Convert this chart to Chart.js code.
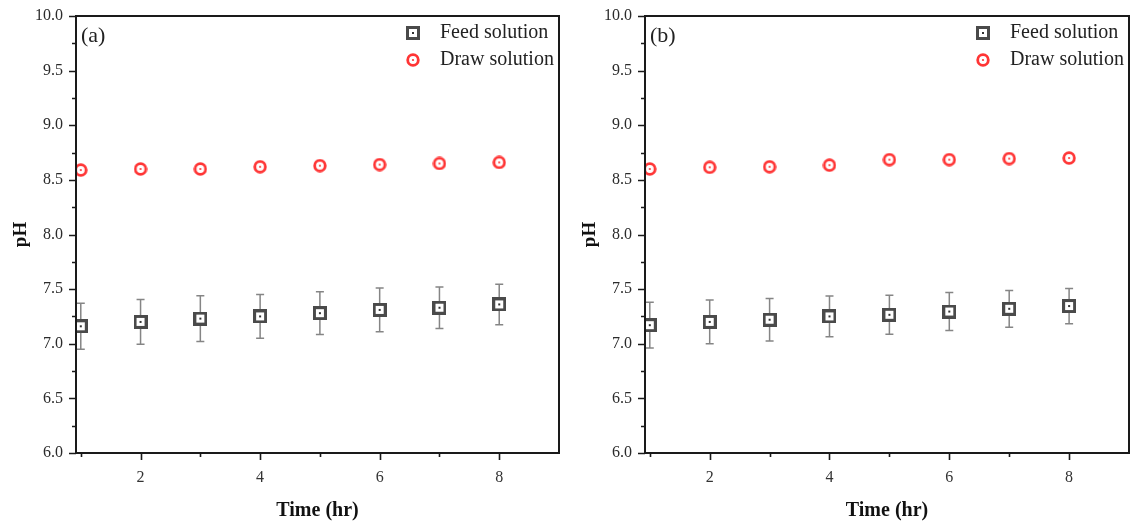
<!DOCTYPE html>
<html>
<head>
<meta charset="utf-8">
<script src="https://cdn.jsdelivr.net/npm/chart.js@4"></script>
<style>
  body { margin: 0; background: #fff; }
  #wrap { position: relative; width: 1138px; height: 524px; }
  .panel { position: absolute; top: 0; width: 569px; height: 524px; }
</style>
</head>
<body>
<div id="wrap">
  <div class="panel" style="left:0"><canvas id="chartA"></canvas></div>
  <div class="panel" style="left:569px"><canvas id="chartB"></canvas></div>
</div>
<script>
const times = [1, 2, 3, 4, 5, 6, 7, 8];

// panel (a)
const feedA = [7.16, 7.20, 7.23, 7.25, 7.28, 7.31, 7.33, 7.36];
const feedAErr = [0.21, 0.205, 0.21, 0.20, 0.195, 0.20, 0.19, 0.185];
const drawA = [8.59, 8.60, 8.60, 8.62, 8.63, 8.64, 8.65, 8.66];
const drawAErr = [0.02, 0.02, 0.02, 0.02, 0.02, 0.02, 0.02, 0.02];

// panel (b)
const feedB = [7.17, 7.20, 7.22, 7.25, 7.265, 7.295, 7.32, 7.345];
const feedBErr = [0.21, 0.20, 0.195, 0.187, 0.178, 0.174, 0.168, 0.161];
const drawB = [8.60, 8.615, 8.62, 8.635, 8.685, 8.685, 8.695, 8.70];
const drawBErr = [0.02, 0.02, 0.02, 0.02, 0.03, 0.03, 0.02, 0.03];

const yTicks = [6.0, 6.5, 7.0, 7.5, 8.0, 8.5, 9.0, 9.5, 10.0];
const seriesNames = ["Feed solution", "Draw solution"];

const SERIF = "'Liberation Serif', 'Times New Roman', serif";

function squareMarker() {
    const c = document.createElement("canvas");
    c.width = c.height = 14;
    const g = c.getContext("2d");
    g.fillStyle = "#fff";
    g.fillRect(1, 1, 12, 12);
    g.strokeStyle = "#4a4a4a";
    g.lineWidth = 3;
    g.strokeRect(1.5, 1.5, 11, 11);
    g.fillStyle = "#333";
    g.fillRect(6, 6, 2, 2);
    return c;
}

function circleMarker() {
    const c = document.createElement("canvas");
    c.width = c.height = 14;
    const g = c.getContext("2d");
    g.beginPath();
    g.arc(7, 7, 5.3, 0, Math.PI * 2);
    g.fillStyle = "#fff";
    g.fill();
    g.strokeStyle = "#ff3535";
    g.lineWidth = 2.8;
    g.stroke();
    g.beginPath();
    g.arc(7, 7, 1.1, 0, Math.PI * 2);
    g.fillStyle = "#ff3535";
    g.fill();
    return c;
}

const sqImg = squareMarker();
const ciImg = circleMarker();

// frame, ticks, error bars, legend, panel label
const decorPlugin = {
    id: "decor",
    beforeDatasetsDraw(chart) {
        const ctx = chart.ctx;
        const xs = chart.scales.x, ys = chart.scales.y;
        ctx.save();
        chart.data.datasets.forEach(ds => {
            ctx.strokeStyle = ds.errColor;
            ctx.lineWidth = 1.5;
            ds.data.forEach((p, i) => {
                const e = ds.errors[i];
                const px = xs.getPixelForValue(p.x);
                const top = ys.getPixelForValue(p.y + e);
                const bot = ys.getPixelForValue(p.y - e);
                ctx.beginPath();
                ctx.moveTo(px, top); ctx.lineTo(px, bot);
                ctx.moveTo(px - 4, top); ctx.lineTo(px + 4, top);
                ctx.moveTo(px - 4, bot); ctx.lineTo(px + 4, bot);
                ctx.stroke();
            });
        });
        ctx.restore();
    },
    afterDraw(chart) {
        const ctx = chart.ctx;
        const a = chart.chartArea;
        const xs = chart.scales.x, ys = chart.scales.y;
        ctx.save();
        ctx.strokeStyle = "#1a1a1a";
        ctx.lineWidth = 2;
        ctx.strokeRect(a.left, a.top, a.right - a.left, a.bottom - a.top);

        ctx.lineWidth = 1.6;
        ctx.beginPath();
        // y ticks: majors every 0.5, minors between
        for (let v = 6; v <= 10.001; v += 0.25) {
            const py = Math.round(ys.getPixelForValue(v)) + 0.5;
            const major = Math.abs(v * 2 - Math.round(v * 2)) < 1e-6;
            ctx.moveTo(a.left, py);
            ctx.lineTo(a.left - (major ? 7 : 4), py);
        }
        // x ticks: majors on even hours, minors on odd
        times.forEach(t => {
            const px = Math.round(xs.getPixelForValue(t)) + 0.5;
            ctx.moveTo(px, a.bottom);
            ctx.lineTo(px, a.bottom + (t % 2 === 0 ? 7 : 4));
        });
        ctx.stroke();

        // legend inside plot, top right
        ctx.font = "20px " + SERIF;
        ctx.fillStyle = "#222";
        ctx.textBaseline = "middle";
        ctx.textAlign = "left";
        const imgs = [sqImg, ciImg];
        chart.data.datasets.forEach((ds, i) => {
            const ly = 33 + i * 27;
            const img = imgs[i];
            ctx.drawImage(img, a.right - 146 - img.width / 2, ly - img.height / 2);
            ctx.fillText(ds.label, a.right - 119, ly);
        });

        // panel label
        ctx.font = "22px " + SERIF;
        ctx.fillText(chart.options.panelLabel, a.left + 5, 36);
        ctx.restore();
    }
};

function makeChart(id, feed, feedErr, draw, drawErr, label, rightPad) {
    return new Chart(document.getElementById(id), {
        type: "scatter",
        data: {
            datasets: [
                {
                    label: seriesNames[0],
                    data: times.map((t, i) => ({ x: t, y: feed[i] })),
                    errors: feedErr,
                    errColor: "#858585",
                    pointStyle: sqImg,
                    showLine: false
                },
                {
                    label: seriesNames[1],
                    data: times.map((t, i) => ({ x: t, y: draw[i] })),
                    errors: drawErr,
                    errColor: "#ff8080",
                    pointStyle: ciImg,
                    showLine: false
                }
            ]
        },
        options: {
            panelLabel: label,
            responsive: true,
            maintainAspectRatio: false,
            animation: false,
            layout: { padding: { top: 16, right: rightPad, left: 0, bottom: 0 } },
            plugins: { legend: { display: false }, tooltip: { enabled: false } },
            scales: {
                x: {
                    type: "linear",
                    min: 0.92,
                    max: 9,
                    afterBuildTicks: s => { s.ticks = times.map(v => ({ value: v })); },
                    afterFit: s => { s.height = 71; s.paddingLeft = 0; s.paddingRight = 0; },
                    grid: { display: false, drawTicks: false },
                    border: { display: false },
                    ticks: {
                        autoSkip: false,
                        maxRotation: 0,
                        padding: 15,
                        color: "#333",
                        font: { family: SERIF, size: 16 },
                        callback: v => (v % 2 === 0 ? String(v) : "")
                    },
                    title: {
                        display: true,
                        text: "Time (hr)",
                        color: "#111",
                        font: { family: SERIF, size: 20, weight: "bold" },
                        padding: { top: 0, bottom: 1 }
                    }
                },
                y: {
                    min: 6,
                    max: 10,
                    afterBuildTicks: s => { s.ticks = yTicks.map(v => ({ value: v })); },
                    afterFit: s => { s.width = 76; s.paddingTop = 0; s.paddingBottom = 0; },
                    grid: { display: false, drawTicks: false },
                    border: { display: false },
                    ticks: {
                        padding: 13,
                        color: "#2b2b2b",
                        font: { family: SERIF, size: 16 },
                        callback: v => Number(v).toFixed(1)
                    },
                    title: {
                        display: true,
                        text: "pH",
                        color: "#111",
                        font: { family: SERIF, size: 19, weight: "bold" },
                        padding: { top: 10, bottom: 0 }
                    }
                }
            }
        },
        plugins: [decorPlugin]
    });
}

makeChart("chartA", feedA, feedAErr, drawA, drawAErr, "(a)", 10);
makeChart("chartB", feedB, feedBErr, drawB, drawBErr, "(b)", 9);
</script>
</body>
</html>
